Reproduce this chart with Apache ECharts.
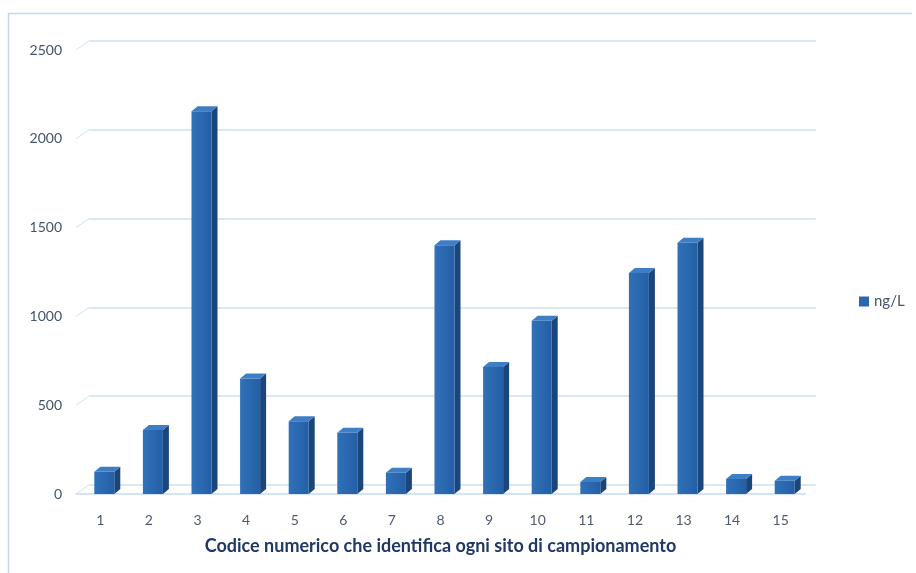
<!DOCTYPE html>
<html>
<head>
<meta charset="utf-8">
<script src="https://cdn.jsdelivr.net/npm/echarts@6/dist/echarts.min.js"></script>
<style>
  html, body { margin: 0; padding: 0; background: #ffffff; }
  #chart { width: 916px; height: 573px; }
</style>
</head>
<body>
<div id="chart"></div>
<script>
// Sampling sites and measured concentrations (ng/L)
const sites = ['1', '2', '3', '4', '5', '6', '7', '8', '9', '10', '11', '12', '13', '14', '15'];
const values = [125, 360, 2155, 650, 410, 345, 120, 1400, 715, 975, 68, 1245, 1415, 85, 75];
const yTicks = [0, 500, 1000, 1500, 2000, 2500];
const seriesName = 'ng/L';
const xTitle = 'Codice numerico che identifica ogni sito di campionamento';

const FONT = 'Lato, "Open Sans", sans-serif';
const DEPTH_X = 13, DEPTH_Y = 9;   // offset of the back wall
const BAR_DX = 6, BAR_DY = 5;      // depth of each column

const chart = echarts.init(document.getElementById('chart'));

// Column with front face, shaded side and lighter top
function renderColumn(params, api) {
  const i = api.value(0);
  const v = api.value(1);
  const top = api.coord([i, v]);
  const base = api.coord([i, 0]);
  const cx = top[0];
  const x0 = cx - 6, x1 = cx + 14;
  const yT = top[1], yB = base[1];
  return {
    type: 'group',
    children: [
      {
        type: 'polygon',
        shape: { points: [[x1, yT], [x1 + BAR_DX, yT - BAR_DY], [x1 + BAR_DX, yB - BAR_DY], [x1, yB]] },
        style: { fill: '#1a467c' }
      },
      {
        type: 'rect',
        shape: { x: x0, y: yT, width: x1 - x0, height: yB - yT },
        style: {
          fill: new echarts.graphic.LinearGradient(0, 0, 1, 0, [
            { offset: 0, color: '#3071b9' },
            { offset: 1, color: '#245fa5' }
          ])
        }
      },
      {
        type: 'polygon',
        shape: { points: [[x0, yT], [x0 + BAR_DX, yT - BAR_DY], [x1 + BAR_DX, yT - BAR_DY], [x1, yT]] },
        style: { fill: '#3e7ec5' }
      }
    ]
  };
}

// Short diagonal connecting each front tick to the back wall
function renderWallEdge(params, api) {
  const p = api.coord([0, api.value(0)]);
  const left = params.coordSys.x;
  return {
    type: 'line',
    shape: { x1: left, y1: p[1], x2: left + DEPTH_X, y2: p[1] - DEPTH_Y },
    style: { stroke: '#d3e2f1', lineWidth: 1 }
  };
}

const grid = { left: 76, right: 111, top: 50, bottom: 79 };

const option = {
  backgroundColor: '#ffffff',
  animation: false,
  graphic: [
    {
      type: 'polyline',
      shape: { points: [[8.5, 573], [8.5, 13.5], [912, 13.5]] },
      style: { stroke: '#c3d8ee', lineWidth: 1.5, fill: null }
    }
  ],
  legend: {
    data: [{ name: seriesName, icon: 'rect' }],
    left: 854,
    top: 289,
    itemWidth: 10,
    itemHeight: 10,
    itemGap: 4,
    textStyle: { color: '#44546a', fontSize: 15, fontFamily: FONT }
  },
  grid: [
    grid,
    { left: grid.left + DEPTH_X, right: grid.right - DEPTH_X + 2, top: grid.top - DEPTH_Y, bottom: grid.bottom + DEPTH_Y }
  ],
  xAxis: [
    {
      type: 'category',
      gridIndex: 0,
      data: sites,
      axisTick: { show: false },
      axisLine: { show: true, lineStyle: { color: '#c7dbef', width: 1.5 } },
      axisLabel: { color: '#505a6e', fontSize: 14, fontFamily: FONT, margin: 19 },
      name: xTitle,
      nameLocation: 'middle',
      nameGap: 43,
      nameTextStyle: { color: '#1f3864', fontSize: 18, fontWeight: 'bold', fontFamily: FONT }
    },
    {
      type: 'category',
      gridIndex: 1,
      data: sites,
      show: false
    }
  ],
  yAxis: [
    {
      type: 'value',
      gridIndex: 0,
      min: 0,
      max: yTicks[yTicks.length - 1],
      interval: 500,
      axisLine: { show: false },
      axisTick: { show: false },
      splitLine: { show: false },
      axisLabel: { color: '#44546a', fontSize: 14, fontFamily: FONT, margin: 14, formatter: v => String(v) }
    },
    {
      type: 'value',
      gridIndex: 1,
      min: 0,
      max: yTicks[yTicks.length - 1],
      interval: 500,
      axisLine: { show: false },
      axisTick: { show: false },
      axisLabel: { show: false },
      splitLine: { show: true, lineStyle: { color: '#cfe0f1', width: 1.5 } }
    }
  ],
  series: [
    {
      type: 'custom',
      name: 'wall',
      xAxisIndex: 0,
      yAxisIndex: 0,
      renderItem: renderWallEdge,
      data: yTicks.map(t => [t]),
      encode: { y: 0 },
      silent: true,
      z: 1
    },
    {
      type: 'custom',
      name: seriesName,
      xAxisIndex: 0,
      yAxisIndex: 0,
      itemStyle: { color: '#2a66ae' },
      renderItem: renderColumn,
      data: values.map((v, i) => [i, v]),
      encode: { x: 0, y: 1 },
      z: 5
    }
  ]
};

chart.setOption(option);
</script>
</body>
</html>
